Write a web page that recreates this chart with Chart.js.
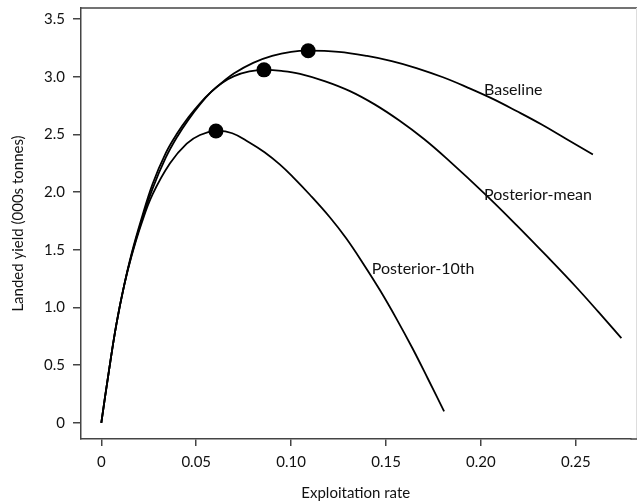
<!DOCTYPE html>
<html>
<head>
<meta charset="utf-8">
<script src="https://cdn.jsdelivr.net/npm/chart.js@4.4.1/dist/chart.umd.min.js"></script>
<style>
  html, body { margin: 0; padding: 0; background: #fff; }
  #wrap { width: 638px; height: 502px; position: relative; }
</style>
</head>
<body>
<div id="wrap"><canvas id="c" width="638" height="502"></canvas></div>
<script>
// ---- Data ----
const baselineX = [0, 0.004, 0.008, 0.012, 0.016, 0.021, 0.027, 0.034, 0.040, 0.046, 0.052, 0.058, 0.064, 0.070, 0.080, 0.090, 0.100, 0.109, 0.125, 0.140, 0.153, 0.166, 0.180, 0.1925, 0.206, 0.219, 0.232, 0.245, 0.259];
const baselineY = [0, 0.45, 0.86, 1.19, 1.46, 1.74, 2.03, 2.30, 2.48, 2.63, 2.76, 2.87, 2.955, 3.03, 3.12, 3.18, 3.215, 3.225, 3.215, 3.18, 3.135, 3.075, 2.995, 2.91, 2.81, 2.70, 2.585, 2.46, 2.325];

const meanX = [0, 0.004, 0.008, 0.012, 0.016, 0.021, 0.027, 0.034, 0.040, 0.046, 0.052, 0.058, 0.064, 0.070, 0.078, 0.0857, 0.095, 0.1047, 0.118, 0.131, 0.144, 0.157, 0.170, 0.182, 0.203, 0.219, 0.235, 0.250, 0.262, 0.274];
const meanY = [0, 0.45, 0.86, 1.19, 1.47, 1.76, 2.07, 2.34, 2.51, 2.65, 2.77, 2.87, 2.95, 3.005, 3.045, 3.059, 3.05, 3.025, 2.96, 2.875, 2.76, 2.62, 2.46, 2.29, 1.97, 1.71, 1.44, 1.18, 0.96, 0.735];

const tenthX = [0, 0.004, 0.008, 0.012, 0.016, 0.021, 0.027, 0.0362, 0.045, 0.052, 0.0604, 0.069, 0.078, 0.086, 0.094, 0.101, 0.110, 0.1205, 0.129, 0.138, 0.147, 0.1556, 0.164, 0.172, 0.1806];
const tenthY = [0, 0.45, 0.86, 1.19, 1.45, 1.72, 1.98, 2.25, 2.42, 2.495, 2.53, 2.51, 2.43, 2.345, 2.24, 2.13, 1.975, 1.78, 1.60, 1.38, 1.145, 0.90, 0.645, 0.385, 0.10];

// Peak (maximum yield) points: Baseline, Posterior-mean, Posterior-10th
const peakX = [0.109, 0.0857, 0.0604];
const peakY = [3.225, 3.059, 2.53];

// Curve labels and their anchor (data coordinates)
const labelNames = ["Baseline", "Posterior-mean", "Posterior-10th"];
const labelX = [0.2016, 0.2016, 0.1425];
const labelY = [2.886, 1.976, 1.334];

const xTicks = [0, 0.05, 0.10, 0.15, 0.20, 0.25];
const yTicks = [0, 0.5, 1.0, 1.5, 2.0, 2.5, 3.0, 3.5];

const toPts = (xs, ys) => xs.map((x, i) => ({ x: x, y: ys[i] }));

const FONT = "Lato";
const AXIS_COLOR = "#444";
const TXT = "#111";

const curveStyle = {
  showLine: true, borderColor: "#000", borderWidth: 1.8, pointRadius: 0,
  tension: 0.4, fill: false
};

const extras = {
  id: "extras",
  afterDraw(chart) {
    const { ctx, chartArea, scales } = chart;
    const rightEdge = chart.width - 1;
    ctx.save();
    ctx.strokeStyle = AXIS_COLOR;
    ctx.lineWidth = 1.5;
    ctx.beginPath();
    ctx.moveTo(chartArea.left, chartArea.top);
    ctx.lineTo(rightEdge, chartArea.top);
    ctx.stroke();
    ctx.strokeStyle = "#ddd";
    ctx.lineWidth = 1;
    ctx.beginPath();
    ctx.moveTo(rightEdge - 0.5, chartArea.top);
    ctx.lineTo(rightEdge - 0.5, chartArea.bottom);
    ctx.stroke();
    ctx.strokeStyle = AXIS_COLOR;
    ctx.lineWidth = 1.5;
    ctx.beginPath();
    ctx.moveTo(chartArea.right, chartArea.bottom);
    ctx.lineTo(rightEdge, chartArea.bottom);
    ctx.stroke();
    ctx.fillStyle = TXT;
    ctx.font = "16px " + FONT;
    ctx.textAlign = "left";
    ctx.textBaseline = "middle";
    labelNames.forEach((t, i) => {
      ctx.fillText(t, scales.x.getPixelForValue(labelX[i]), scales.y.getPixelForValue(labelY[i]));
    });
    ctx.restore();
  }
};

new Chart(document.getElementById("c"), {
  type: "scatter",
  data: {
    datasets: [
      Object.assign({ label: "Baseline", data: toPts(baselineX, baselineY) }, curveStyle),
      Object.assign({ label: "Posterior-mean", data: toPts(meanX, meanY) }, curveStyle),
      Object.assign({ label: "Posterior-10th", data: toPts(tenthX, tenthY) }, curveStyle),
      {
        label: "Peaks", data: toPts(peakX, peakY), showLine: false,
        pointRadius: 7.5, pointBackgroundColor: "#000", pointBorderColor: "#000", pointBorderWidth: 0
      }
    ]
  },
  options: {
    responsive: false,
    animation: false,
    layout: { padding: { top: 8, right: 1, left: 0, bottom: 0 } },
    plugins: { legend: { display: false }, tooltip: { enabled: false } },
    scales: {
      x: {
        type: "linear", min: -0.0107, max: 0.2788,
        afterBuildTicks: (s) => { s.ticks = xTicks.map(v => ({ value: v })); },
        afterFit: (s) => { s.height = 63; s.paddingLeft = 0; s.paddingRight = 0; },
        ticks: {
          color: TXT, font: { family: FONT, size: 15 }, padding: 7, maxRotation: 0,
          callback: (v) => v === 0 ? "0" : Number(v).toFixed(2)
        },
        grid: { drawOnChartArea: false, drawTicks: true, tickLength: 7, color: AXIS_COLOR, lineWidth: 1.5 },
        border: { display: true, color: AXIS_COLOR, width: 1.5 },
        title: { display: true, text: "Exploitation rate", color: TXT, font: { family: FONT, size: 15 }, padding: { top: 0, bottom: 0 } }
      },
      y: {
        type: "linear", min: -0.139, max: 3.595,
        afterBuildTicks: (s) => { s.ticks = yTicks.map(v => ({ value: v })); },
        afterFit: (s) => { s.width = 81; s.paddingTop = 0; s.paddingBottom = 0; },
        ticks: {
          color: TXT, font: { family: FONT, size: 15 }, padding: 8,
          callback: (v) => v === 0 ? "0" : Number(v).toFixed(1)
        },
        grid: { drawOnChartArea: false, drawTicks: true, tickLength: 8, color: AXIS_COLOR, lineWidth: 1.5 },
        border: { display: true, color: AXIS_COLOR, width: 1.5 },
        title: { display: true, text: "Landed yield (000s tonnes)", color: TXT, font: { family: FONT, size: 15 }, padding: { top: 9, bottom: 0 } }
      }
    }
  },
  plugins: [extras]
});
</script>
</body>
</html>
